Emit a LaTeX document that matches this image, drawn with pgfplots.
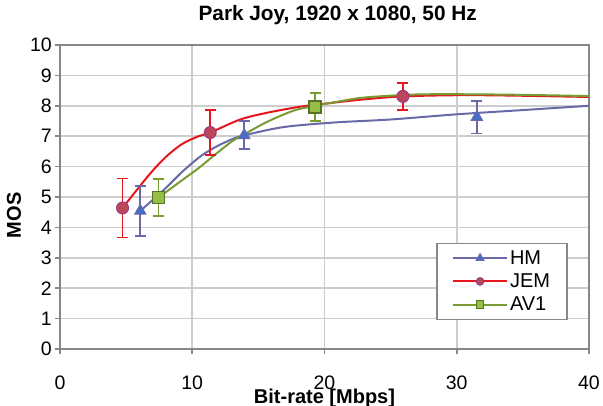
\documentclass[border=0pt]{standalone}
\usepackage{fontspec}
\setmainfont{Liberation Sans}
\usepackage{pgfplots}
\pgfplotsset{compat=1.18}
\definecolor{hmline}{RGB}{105,105,170}
\definecolor{hmfill}{RGB}{70,110,200}
\definecolor{jemline}{RGB}{232,20,30}
\definecolor{jemfill}{RGB}{190,70,90}
\definecolor{jemedge}{RGB}{150,60,130}
\definecolor{avline}{RGB}{120,155,50}
\definecolor{avfill}{RGB}{150,190,70}
\definecolor{avedge}{RGB}{85,115,35}
\definecolor{gridc}{RGB}{205,205,205}
\definecolor{axc}{RGB}{135,135,135}
\begin{document}
\begin{tikzpicture}
\begin{axis}[
  scale only axis, width=529pt, height=304pt,
  xmin=0, xmax=40, ymin=0, ymax=10,
  xtick={0,10,20,30,40}, ytick={0,1,...,10},
  grid=major, major grid style={gridc, line width=1.6pt},
  axis line style={axc, line width=1.8pt},
  tick style={axc, line width=1.5pt},
  tick align=outside, major tick length=5pt,
  xtick pos=left, ytick pos=left,
  /pgf/number format/assume math mode=true,
  ticklabel style={font=\fontsize{19.5}{22}\selectfont},
  xticklabel style={anchor=base, yshift=-35pt, inner sep=0pt},
  yticklabel style={anchor=east, inner sep=3pt},
  title={Park Joy, 1920 x 1080, 50 Hz},
  title style={font=\bfseries\fontsize{20.8}{22}\selectfont, at={(axis description cs:0.525,1.062)}, anchor=base, inner sep=0pt},
  xlabel={Bit-rate [Mbps]},
  xlabel style={font=\bfseries\fontsize{20}{22}\selectfont, at={(axis description cs:0.5,-0.180)}, anchor=base, inner sep=0pt},
  ylabel={MOS},
  ylabel style={font=\bfseries\fontsize{20}{22}\selectfont, at={(axis description cs:-0.0740,0.44)}, anchor=base, inner sep=0pt},
  legend style={at={(rel axis cs:0.960,0.095)}, anchor=south east, draw=axc, line width=1.6pt, fill=white,
    font=\fontsize{20}{22}\selectfont, inner xsep=15pt, inner ysep=5pt, row sep=4pt, cells={anchor=west}},
  legend cell align=left,
  legend image code/.code={\draw[line width=2pt, mark repeat=2, mark phase=2] plot coordinates {(0pt,0pt) (27pt,0pt) (54pt,0pt)};},
]
% legend entries
\addlegendimage{hmline, mark=triangle*, mark size=4.5pt, mark options={fill=hmfill, draw=hmline, line width=1pt}}
\addlegendentry{HM}
\addlegendimage{jemline, mark=*, mark size=3.8pt, mark options={fill=jemfill, draw=jemedge, line width=1pt}}
\addlegendentry{JEM}
\addlegendimage{avline, mark=square*, mark size=3.8pt, mark options={fill=avfill, draw=avedge, line width=1pt}}
\addlegendentry{AV1}
% fitted curves
\addplot[hmline, line width=2pt, smooth, tension=0.5, forget plot] coordinates {
 (6.07,4.54) (7.96,5.28) (9.22,5.82) (10.6,6.33) (11.74,6.64) (13.0,6.9) (13.93,7.03) (16.9,7.30) (20.7,7.45) (25,7.55) (30,7.72) (35,7.86) (40,8.0)};
\addplot[jemline, line width=2pt, smooth, tension=0.5, forget plot] coordinates {
 (4.73,4.64) (6.7,5.71) (7.96,6.30) (9.22,6.74) (10.48,7.0) (11.36,7.12) (13.63,7.55) (15.65,7.77) (18.16,7.97) (20.43,8.09) (22.95,8.21) (25.93,8.31) (30.5,8.35) (35,8.33) (40,8.29)};
\addplot[avline, line width=2pt, smooth, tension=0.5, forget plot] coordinates {
 (7.45,4.98) (9.22,5.55) (10.48,5.95) (11.74,6.40) (13.0,6.83) (13.88,7.05) (15.65,7.47) (17.66,7.84) (19.3,8.0) (20.93,8.13) (22.95,8.27) (26.7,8.37) (30.5,8.38) (35,8.36) (40,8.32)};
% data points with error bars
\addplot[forget plot, only marks, mark=triangle*, mark size=6.5pt, mark options={fill=hmfill, draw=hmline, line width=1pt},
  error bars/.cd, y dir=both, y explicit, error mark=|, error bar style={hmline, line width=1.8pt}, error mark options={hmline, line width=1.8pt, mark size=5.5pt}]
  coordinates {(6.07,4.54) +- (0,0.81) (13.93,7.03) +- (0,0.46) (31.52,7.63) +- (0,0.54)};
\addplot[forget plot, only marks, mark=*, mark size=6pt, mark options={fill=jemfill, draw=jemedge, line width=1pt},
  error bars/.cd, y dir=both, y explicit, error mark=|, error bar style={jemline, line width=1.8pt}, error mark options={jemline, line width=1.8pt, mark size=5.5pt}]
  coordinates {(4.73,4.64) +- (0,0.97) (11.36,7.12) +- (0,0.75) (25.93,8.31) +- (0,0.45)};
\addplot[forget plot, only marks, mark=square*, mark size=6pt, mark options={fill=avfill, draw=avedge, line width=1.5pt},
  error bars/.cd, y dir=both, y explicit, error mark=|, error bar style={avline, line width=1.8pt}, error mark options={avline, line width=1.8pt, mark size=5.5pt}]
  coordinates {(7.45,4.98) +- (0,0.60) (19.3,7.96) +- (0,0.45)};
\end{axis}
\pgfresetboundingbox
\useasboundingbox (-60pt,-56pt) rectangle (543pt,349pt);
\end{tikzpicture}
\end{document}
